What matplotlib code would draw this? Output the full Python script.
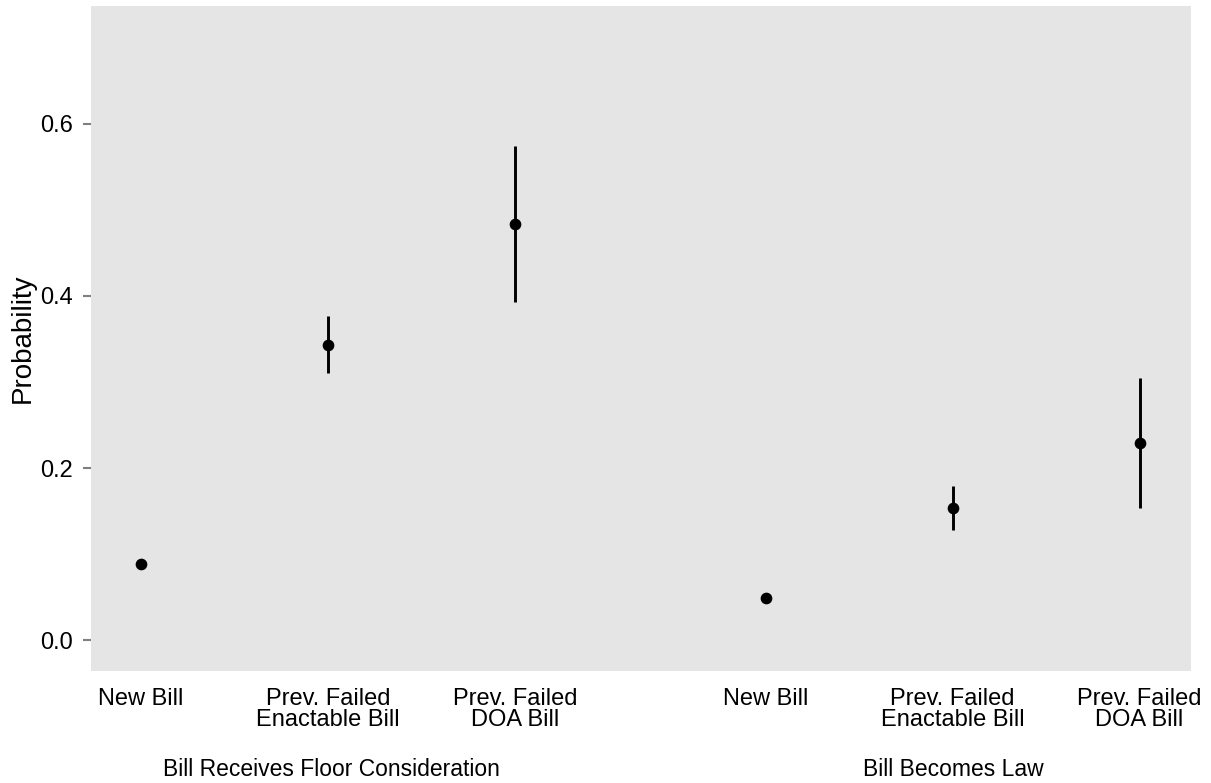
import matplotlib
matplotlib.use("Agg")
import matplotlib.pyplot as plt
import numpy as np

plt.rcParams['font.family'] = ['Liberation Sans', 'DejaVu Sans']

# categories and estimates
labels = ["New Bill", "Prev. Failed\nEnactable Bill", "Prev. Failed\nDOA Bill",
          "New Bill", "Prev. Failed\nEnactable Bill", "Prev. Failed\nDOA Bill"]
groups = ["Bill Receives Floor Consideration", "Bill Becomes Law"]
xpos = [1, 2, 3, 4.34, 5.34, 6.34]
prob = [0.088, 0.343, 0.484, 0.0485, 0.154, 0.229]
lower = [0.085, 0.310, 0.393, 0.045, 0.128, 0.154]
upper = [0.092, 0.377, 0.574, 0.052, 0.179, 0.305]

fig = plt.figure(figsize=(12.11, 7.83), dpi=100)
ax = fig.add_axes([0.0751, 0.143, 0.9084, 0.8493])
ax.set_facecolor("#E5E5E5")

for x, p, lo, hi in zip(xpos, prob, lower, upper):
    ax.plot([x, x], [lo, hi], color="black", lw=2.1, solid_capstyle="butt")
ax.plot(xpos, prob, "o", color="black", ms=7.4)

ax.set_xlim(0.733, 6.615)
ax.set_ylim(-0.036, 0.737)
ax.set_yticks([0.0, 0.2, 0.4, 0.6])
ax.set_yticklabels(["0.0", "0.2", "0.4", "0.6"])
ax.set_xticks(xpos)
ax.set_xticklabels(labels, fontsize=17, linespacing=0.98)
ax.tick_params(axis="x", length=0, pad=12)
ax.tick_params(axis="y", length=6, width=1.5, color="#7F7F7F", labelsize=17, pad=7)
for s in ax.spines.values():
    s.set_visible(False)

ax.set_ylabel("Probability", fontsize=20, labelpad=3)

fig.text(331 / 1211, 1 - 769 / 783, groups[0], ha="center", va="center", fontsize=16.5)
fig.text(953 / 1211, 1 - 769 / 783, groups[1], ha="center", va="center", fontsize=16.5)

fig.savefig("out.png", dpi=100)
